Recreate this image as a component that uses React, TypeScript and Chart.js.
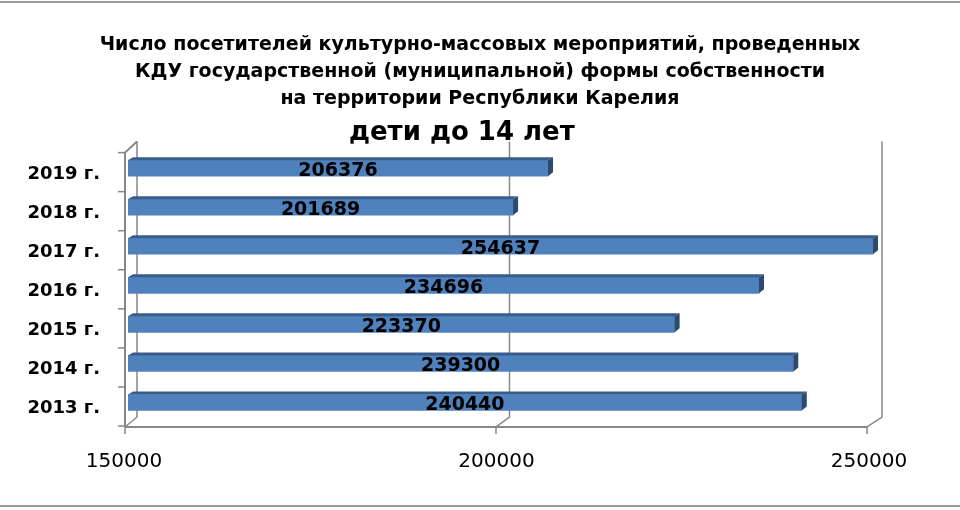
import React, { useRef, useEffect } from 'react';
import { Chart, registerables } from 'chart.js';

Chart.register(...registerables);

const years = ['2019 г.', '2018 г.', '2017 г.', '2016 г.', '2015 г.', '2014 г.', '2013 г.'];
const visitors = [206376, 201689, 254637, 234696, 223370, 239300, 240440];
const axisTicks = [150000, 200000, 250000];

const titleLines = [
    'Число посетителей культурно-массовых мероприятий, проведенных',
    'КДУ государственной (муниципальной) формы собственности',
    'на территории Республики Карелия',
];
const subtitleText = 'дети до 14 лет\u00A0\u00A0\u00A0\u00A0';

const GRAY = '#878787';

// рамка, задняя стенка и пол "объёмной" диаграммы
const wallsPlugin = {
    id: 'walls',
    beforeDraw(chart: any) {
        const { ctx, width, height } = chart;
        ctx.save();
        ctx.fillStyle = '#9a9a9a';
        ctx.fillRect(0, 1, width, 2);
        ctx.fillRect(0, height - 5, width, 2);
        ctx.restore();
    },
    beforeDatasetsDraw(chart: any) {
        const { ctx, chartArea: ca, scales } = chart;
        const xs = scales.x;
        const ys = scales.y;
        const span = xs.max - xs.min;
        const front = (v: number) => xs.getPixelForValue(v) - 3 - 3 * ((v - xs.min) / span);
        const back = (v: number) => xs.getPixelForValue(v) + 9;
        const backTop = ca.top - 7;
        const backBottom = ca.bottom - 5;
        const floorY = ca.bottom + 5;

        ctx.save();
        ctx.strokeStyle = GRAY;
        ctx.lineWidth = 1.5;
        axisTicks.forEach((v) => {
            ctx.beginPath();
            ctx.moveTo(back(v), backTop);
            ctx.lineTo(back(v), backBottom);
            ctx.lineTo(front(v), floorY);
            ctx.lineTo(front(v), floorY + 7);
            ctx.stroke();
        });
        ctx.lineWidth = 2;
        ctx.beginPath();
        ctx.moveTo(front(xs.min), floorY);
        ctx.lineTo(front(xs.max), floorY);
        ctx.stroke();

        // левая ось категорий
        const x0 = front(xs.min);
        ctx.beginPath();
        ctx.moveTo(back(xs.min), backTop);
        ctx.lineTo(x0, ca.top + 4);
        ctx.lineTo(x0, floorY);
        ctx.stroke();
        const band = ys.getPixelForValue(1) - ys.getPixelForValue(0);
        ctx.lineWidth = 1.5;
        for (let i = 0; i <= years.length; i++) {
            const y = ys.getPixelForValue(0) - band / 2 + i * band + 4;
            ctx.beginPath();
            ctx.moveTo(x0 - 7, y);
            ctx.lineTo(x0, y);
            ctx.stroke();
        }
        ctx.restore();
    },
    afterDatasetsDraw(chart: any) {
        const { ctx, chartArea: ca } = chart;
        const meta = chart.getDatasetMeta(0);
        const d = 5;
        const dy = 3;
        ctx.save();
        meta.data.forEach((el: any, i: number) => {
            const p = el.getProps(['x', 'y', 'base', 'height'], true);
            const left = Math.max(p.base, ca.left);
            const right = Math.min(p.x, ca.right);
            const top = p.y - p.height / 2;
            const bottom = p.y + p.height / 2;
            // верхняя грань
            ctx.fillStyle = '#385d8a';
            ctx.beginPath();
            ctx.moveTo(left, top);
            ctx.lineTo(left + d, top - dy);
            ctx.lineTo(right + d, top - dy);
            ctx.lineTo(right, top);
            ctx.closePath();
            ctx.fill();
            // боковая грань
            ctx.fillStyle = '#2c4a70';
            ctx.beginPath();
            ctx.moveTo(right, top);
            ctx.lineTo(right + d, top - dy);
            ctx.lineTo(right + d, bottom - dy - 1);
            ctx.lineTo(right, bottom);
            ctx.closePath();
            ctx.fill();

            // подпись значения по центру столбика
            ctx.fillStyle = '#000';
            ctx.font = 'bold 19px "DejaVu Sans"';
            ctx.textAlign = 'center';
            ctx.textBaseline = 'middle';
            ctx.fillText(String(visitors[i]), (left + right) / 2, p.y + 3);
        });
        ctx.restore();
    },
};

const App: React.FC = () => {
    const canvasRef = useRef<HTMLCanvasElement>(null);
    const chartRef = useRef<Chart | null>(null);

    useEffect(() => {
        document.body.style.margin = '0';
        if (!canvasRef.current) return;
        if (chartRef.current) chartRef.current.destroy();

        chartRef.current = new Chart(canvasRef.current, {
            type: 'bar',
            data: {
                labels: years,
                datasets: [{
                    data: visitors,
                    backgroundColor: '#4f81bd',
                    borderWidth: 0,
                    barThickness: 16,
                }],
            },
            options: {
                indexAxis: 'y',
                animation: false,
                responsive: false,
                devicePixelRatio: 1,
                layout: { padding: { left: 0, right: 0, top: 0, bottom: 36 } },
                scales: {
                    x: {
                        min: 150000,
                        max: 250000,
                        grid: { display: false, drawTicks: false },
                        border: { display: false },
                        afterBuildTicks: (axis: any) => {
                            axis.ticks = axisTicks.map((v) => ({ value: v }));
                        },
                        afterFit: (axis: any) => {
                            axis.height = 52;
                        },
                        ticks: {
                            padding: 28,
                            labelOffset: -4,
                            maxRotation: 0,
                            color: '#000',
                            font: { family: '"DejaVu Sans"', size: 20 },
                            callback: (v: any) => String(v),
                        },
                    },
                    y: {
                        grid: { display: false, drawTicks: false },
                        border: { display: false },
                        afterFit: (axis: any) => {
                            axis.width = 128;
                        },
                        ticks: {
                            padding: 28,
                            labelOffset: 6,
                            color: '#000',
                            font: { family: '"DejaVu Sans"', size: 18, weight: 'bold' },
                        },
                    },
                    // пустая ось справа — только отступ области построения
                    yRight: {
                        type: 'linear',
                        position: 'right',
                        grid: { display: false, drawTicks: false },
                        border: { display: false },
                        ticks: { display: false },
                        afterFit: (axis: any) => {
                            axis.width = 87;
                        },
                    },
                },
                plugins: {
                    legend: { display: false },
                    tooltip: { enabled: false },
                    title: {
                        display: true,
                        text: titleLines,
                        color: '#000',
                        font: { family: '"DejaVu Sans"', size: 19, weight: 'bold', lineHeight: 27 / 19 },
                        padding: { top: 32, bottom: 6 },
                    },
                    subtitle: {
                        display: true,
                        text: subtitleText,
                        color: '#000',
                        font: { family: '"DejaVu Sans"', size: 26, weight: 'bold', lineHeight: 1.1 },
                        padding: { top: 0, bottom: 1 },
                    },
                },
            } as any,
            plugins: [wallsPlugin],
        });

        return () => {
            if (chartRef.current) {
                chartRef.current.destroy();
                chartRef.current = null;
            }
        };
    }, []);

    return (
        <div style={{ width: 960, height: 510, background: '#fff' }}>
            <canvas ref={canvasRef} width={960} height={510}></canvas>
        </div>
    );
};

export default App;
